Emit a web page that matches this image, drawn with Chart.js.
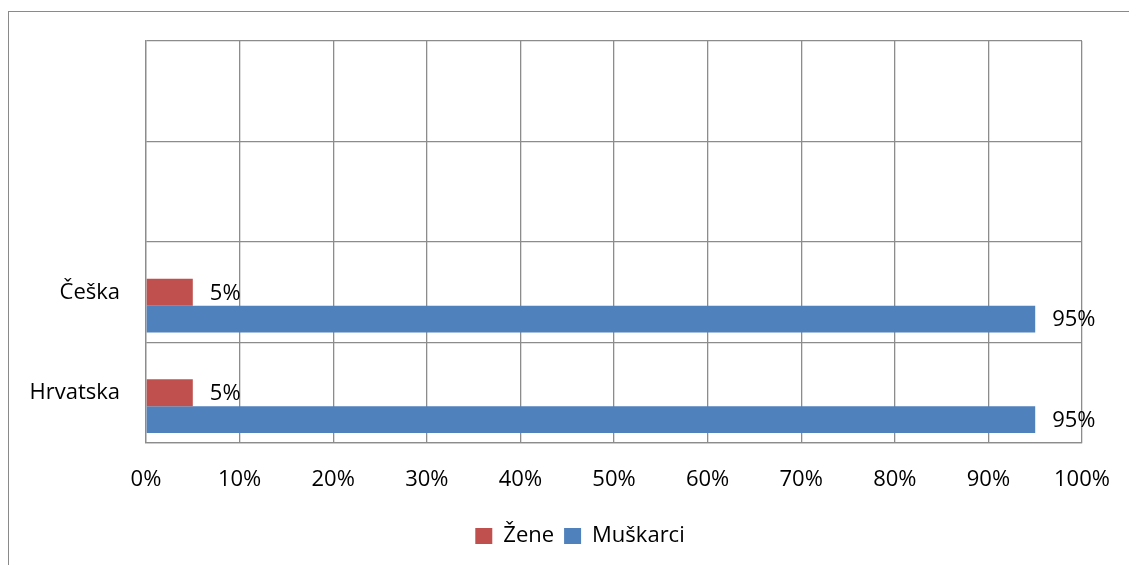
<!DOCTYPE html>
<html>
<head>
<meta charset="utf-8">
<script src="https://cdn.jsdelivr.net/npm/chart.js@4"></script>
<style>
  html, body { margin: 0; padding: 0; background: #fff; }
  #wrap { position: relative; width: 1129px; height: 565px; overflow: hidden; }
  #frame { position: absolute; left: 8px; top: 11px; width: 1300px; height: 700px;
           border: 1.5px solid #8a8a8a; pointer-events: none; }
  canvas { position: absolute; left: 0; top: 0; }
</style>
</head>
<body>
<div id="wrap">
  <canvas id="chart" width="1129" height="565"></canvas>
  <div id="frame"></div>
</div>
<script>
// podaci
var kategorije = ['', '', 'Češka', 'Hrvatska'];
var zene = [null, null, 5, 5];
var muskarci = [null, null, 95, 95];
var prazno = [null, null, null, null];
var xTicks = [0, 10, 20, 30, 40, 50, 60, 70, 80, 90, 100];

Chart.defaults.font.family = '"Open Sans", sans-serif';
Chart.defaults.font.size = 22;
Chart.defaults.color = '#000';

// natpisi vrijednosti desno od stupca
var oznake = {
    id: 'oznake',
    afterDatasetsDraw: function (chart) {
        var ctx = chart.ctx;
        ctx.save();
        ctx.font = '22px "Open Sans", sans-serif';
        ctx.fillStyle = '#000';
        ctx.textAlign = 'left';
        ctx.textBaseline = 'middle';
        chart.data.datasets.forEach(function (ds, i) {
            if (!ds.label) return;
            chart.getDatasetMeta(i).data.forEach(function (bar, j) {
                if (ds.data[j] == null) return;
                ctx.fillText(ds.data[j] + '%', bar.x + 17, bar.y + 1);
            });
        });
        ctx.restore();
    }
};

// legenda malo udesno, kao u originalu
var pomakLegende = {
    id: 'pomakLegende',
    afterLayout: function (chart) {
        if (!chart.legend) return;
        chart.legend.left += 29;
        chart.legend.right += 29;
    }
};

var ctx = document.getElementById('chart').getContext('2d');
var chart = new Chart(ctx, {
    type: 'bar',
    data: {
        labels: kategorije,
        datasets: [
            { label: '', data: prazno, backgroundColor: 'rgba(0,0,0,0)' },
            { label: 'Žene', data: zene, backgroundColor: '#C0504D' },
            { label: 'Muškarci', data: muskarci, backgroundColor: '#4F81BD' }
        ]
    },
    options: {
        indexAxis: 'y',
        responsive: false,
        animation: false,
        categoryPercentage: 0.8,
        barPercentage: 1.0,
        layout: { padding: { left: 20, right: 47, top: 41, bottom: 8 } },
        scales: {
            x: {
                min: 0,
                max: 100,
                afterBuildTicks: function (scale) {
                    scale.ticks = xTicks.map(function (v) { return { value: v }; });
                },
                afterFit: function (scale) { scale.height = 72; },
                grid: { color: '#8c8c8c', lineWidth: 1.3, drawTicks: true, tickLength: 24,
                        tickColor: 'rgba(0,0,0,0)' },
                border: { color: '#8c8c8c', width: 1.3 },
                ticks: {
                    padding: 0,
                    maxRotation: 0,
                    callback: function (v) { return v + '%'; }
                }
            },
            y: {
                afterFit: function (scale) { scale.width = 126; },
                grid: { color: '#8c8c8c', lineWidth: 1.3, drawTicks: false, offset: true },
                border: { color: '#8c8c8c', width: 1.3 },
                ticks: { padding: 26 }
            }
        },
        plugins: {
            legend: {
                position: 'bottom',
                labels: {
                    boxWidth: 17,
                    boxHeight: 16,
                    padding: 10,
                    filter: function (item) { return item.text !== ''; }
                }
            },
            tooltip: { enabled: false }
        }
    },
    plugins: [oznake, pomakLegende]
});
</script>
</body>
</html>
